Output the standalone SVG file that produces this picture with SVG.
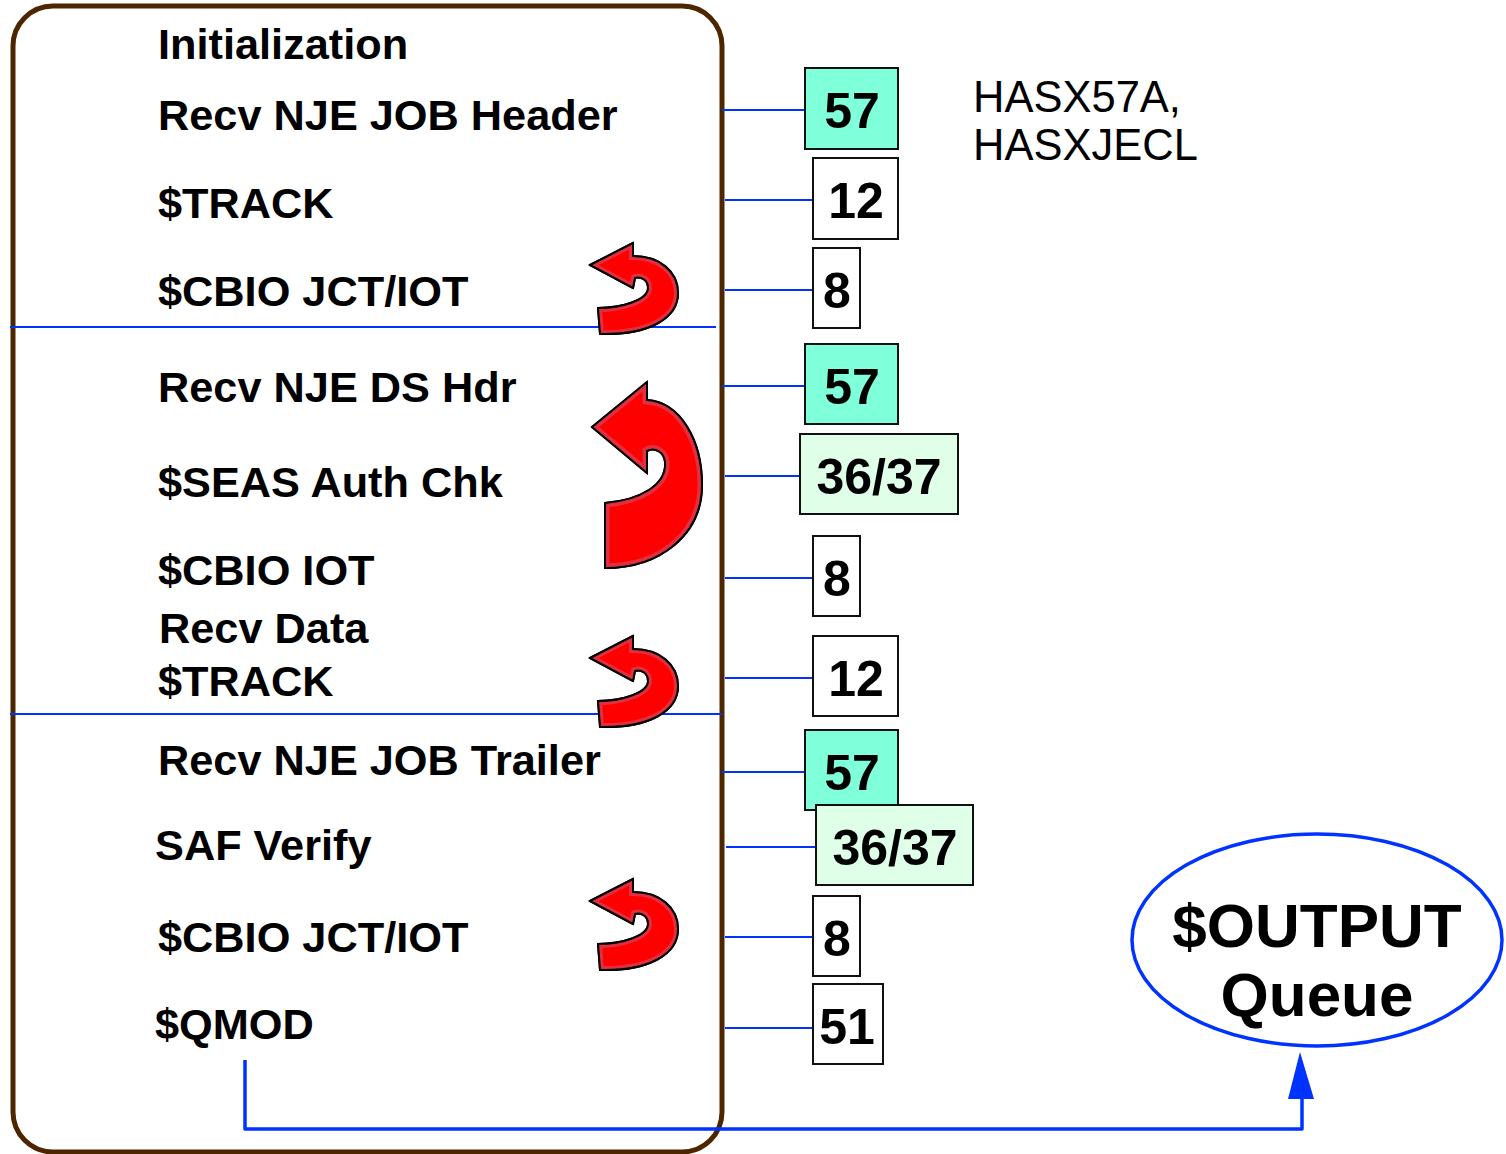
<svg xmlns="http://www.w3.org/2000/svg" width="1506" height="1154" viewBox="0 0 1506 1154">
<style>
.lbl{font-family:"Liberation Sans",Arial,sans-serif;font-weight:bold;font-size:43.3px;fill:#000}
.num{font-family:"Liberation Sans",Arial,sans-serif;font-weight:bold;font-size:50px;fill:#000;text-anchor:middle}
.note{font-family:"Liberation Sans",Arial,sans-serif;font-size:43.5px;fill:#000}
.big{font-family:"Liberation Sans",Arial,sans-serif;font-weight:bold;font-size:62px;fill:#000;text-anchor:middle}
.box{stroke:#111;stroke-width:2}
.teal{fill:#80ffdb}
.mint{fill:#e0ffe8}
.wht{fill:#fff}
.con{stroke:#0033ff;stroke-width:2;fill:none}
.arr{fill:#ff0000;stroke:#000;stroke-width:2;stroke-linejoin:round}
</style>
<defs>
<path id="smallArrow" d="M590,265 L633,243 L633,256 C660,256 678,272 678,293 C678,318 650,335 600,334 L598,308 C622,308 648,300 648,288 C648,280 641,276 635,278 L633,288 Z"/>
<path id="bigArrow" d="M592,427 L647,382 L647,400 C680,402 702,440 702,485 C702,535 660,568 605,568 L605,503 C640,500 667,485 665,462 C664,452 655,447 647,451 L647,473 Z"/>
<clipPath id="clipS"><use href="#smallArrow"/></clipPath>
<clipPath id="clipB"><use href="#bigArrow"/></clipPath>
</defs>
<rect width="1506" height="1154" fill="#fff"/>

<g id="frame">
<rect x="13" y="6" width="709" height="1146" rx="40" ry="40" fill="none" stroke="#4d2600" stroke-width="5"/>
</g>

<g id="connectors">
<line class="con" x1="10" y1="327" x2="716" y2="327"/>
<line class="con" x1="10" y1="714" x2="722" y2="714"/>
<line class="con" x1="722" y1="110" x2="807" y2="110"/>
<line class="con" x1="725" y1="200" x2="813" y2="200"/>
<line class="con" x1="725" y1="290" x2="813" y2="290"/>
<line class="con" x1="722" y1="386" x2="807" y2="386"/>
<line class="con" x1="725" y1="476" x2="811" y2="476"/>
<line class="con" x1="725" y1="578" x2="813" y2="578"/>
<line class="con" x1="725" y1="678" x2="813" y2="678"/>
<line class="con" x1="722" y1="772" x2="808" y2="772"/>
<line class="con" x1="726" y1="847" x2="816" y2="847"/>
<line class="con" x1="725" y1="937" x2="813" y2="937"/>
<line class="con" x1="725" y1="1028" x2="813" y2="1028"/>
<polyline points="245,1060 245,1129 1302,1129 1302,1096" fill="none" stroke="#0033ff" stroke-width="3.5" stroke-linejoin="round"/>
<polygon points="1300,1052 1288,1099 1314,1099" fill="#0033ff"/>
</g>

<g id="labels">
<text class="lbl" x="158" y="59">Initialization</text>
<text class="lbl" x="158" y="130">Recv NJE JOB Header</text>
<text class="lbl" x="158" y="218">$TRACK</text>
<text class="lbl" x="158" y="306">$CBIO JCT/IOT</text>
<text class="lbl" x="158" y="402">Recv NJE DS Hdr</text>
<text class="lbl" x="158" y="497">$SEAS Auth Chk</text>
<text class="lbl" x="158" y="585">$CBIO IOT</text>
<text class="lbl" x="159" y="643">Recv Data</text>
<text class="lbl" x="158" y="696">$TRACK</text>
<text class="lbl" x="158" y="775">Recv NJE JOB Trailer</text>
<text class="lbl" x="155" y="860">SAF Verify</text>
<text class="lbl" x="158" y="952">$CBIO JCT/IOT</text>
<text class="lbl" x="155" y="1039">$QMOD</text>
</g>

<g id="loop-arrows">
<g id="loop1">
<use href="#smallArrow" class="arr"/>
<use href="#smallArrow" fill="none" stroke="#e03040" stroke-width="8" clip-path="url(#clipS)"/>
<use href="#smallArrow" fill="none" stroke="#000" stroke-width="2"/>
</g>
<g id="loop2">
<use href="#bigArrow" class="arr"/>
<use href="#bigArrow" fill="none" stroke="#e03040" stroke-width="9" clip-path="url(#clipB)"/>
<use href="#bigArrow" fill="none" stroke="#000" stroke-width="2"/>
</g>
<g id="loop3" transform="translate(0,393)">
<use href="#smallArrow" class="arr"/>
<use href="#smallArrow" fill="none" stroke="#e03040" stroke-width="8" clip-path="url(#clipS)"/>
<use href="#smallArrow" fill="none" stroke="#000" stroke-width="2"/>
</g>
<g id="loop4" transform="translate(0,636)">
<use href="#smallArrow" class="arr"/>
<use href="#smallArrow" fill="none" stroke="#e03040" stroke-width="8" clip-path="url(#clipS)"/>
<use href="#smallArrow" fill="none" stroke="#000" stroke-width="2"/>
</g>
</g>

<g id="box57a"><rect class="box teal" x="805" y="68" width="93" height="81"/><text class="num" x="852" y="128">57</text></g>
<g id="box12a"><rect class="box wht" x="813" y="158" width="85" height="81"/><text class="num" x="856" y="218">12</text></g>
<g id="box8a"><rect class="box wht" x="813" y="248" width="47" height="80"/><text class="num" x="837" y="308">8</text></g>
<g id="box57b"><rect class="box teal" x="805" y="344" width="93" height="80"/><text class="num" x="852" y="404">57</text></g>
<g id="box3637a"><rect class="box mint" x="800" y="434" width="158" height="80"/><text class="num" x="879" y="494">36/37</text></g>
<g id="box8b"><rect class="box wht" x="813" y="536" width="47" height="80"/><text class="num" x="837" y="596">8</text></g>
<g id="box12b"><rect class="box wht" x="813" y="636" width="85" height="80"/><text class="num" x="856" y="696">12</text></g>
<g id="box57c"><rect class="box teal" x="805" y="730" width="93" height="80"/><text class="num" x="852" y="790">57</text></g>
<g id="box3637b"><rect class="box mint" x="816" y="805" width="157" height="80"/><text class="num" x="895" y="865">36/37</text></g>
<g id="box8c"><rect class="box wht" x="813" y="896" width="47" height="80"/><text class="num" x="837" y="956">8</text></g>
<g id="box51"><rect class="box wht" x="813" y="984" width="70" height="80"/><text class="num" x="847" y="1044">51</text></g>

<g id="note">
<text class="note" x="973" y="112">HASX57A,</text>
<text class="note" x="973" y="160">HASXJECL</text>
</g>

<g id="output-queue">
<ellipse cx="1317" cy="940" rx="185" ry="106" fill="#fff" stroke="#0033ff" stroke-width="3.5"/>
<text class="big" x="1317" y="947">$OUTPUT</text>
<text class="big" x="1317" y="1016">Queue</text>
</g>
</svg>
